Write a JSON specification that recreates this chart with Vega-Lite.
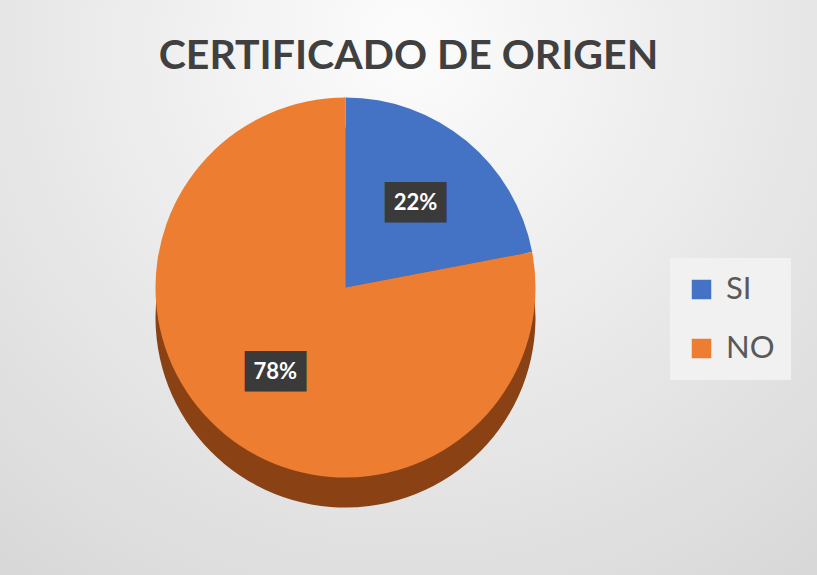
{
  "$schema": "https://vega.github.io/schema/vega-lite/v6.json",
  "width": 817,
  "height": 575,
  "autosize": {"type": "none"},
  "padding": 0,
  "background": "#eeeeee",
  "config": {
    "view": {"stroke": "#bdbdbd", "strokeWidth": 2},
    "font": "Lato"
  },
  "title": {
    "text": "CERTIFICADO DE ORIGEN",
    "font": "Lato",
    "fontSize": 41,
    "fontWeight": "bold",
    "color": "#404040",
    "anchor": "middle",
    "offset": -78
  },
  "data": {"values": [
    {"cat": "SI", "pct": 22, "label": "22%"},
    {"cat": "NO", "pct": 78, "label": "78%"}
  ]},
  "layer": [
    {
      "data": {"values": [{"bg": 1}]},
      "mark": {"type": "rect", "color": {"gradient": "radial", "x1": 0.5, "y1": 0.2, "r1": 0, "x2": 0.5, "y2": 0.2, "r2": 0.95,
        "stops": [{"offset": 0, "color": "#fcfcfc"}, {"offset": 1, "color": "#d2d2d2"}]}}
    },
    {
      "mark": {"type": "arc", "outerRadius": 190, "xOffset": -63, "yOffset": 30},
      "encoding": {
        "theta": {"field": "pct", "type": "quantitative", "stack": true},
        "order": {"field": "cat", "sort": "descending"},
        "fill": {"field": "cat", "type": "nominal", "sort": ["SI", "NO"],
          "scale": {"domain": ["SI", "NO"], "range": ["#2f5597", "#8a4214"]}, "legend": null}
      }
    },
    {
      "mark": {"type": "arc", "outerRadius": 190, "xOffset": -63, "yOffset": 0},
      "encoding": {
        "theta": {"field": "pct", "type": "quantitative", "stack": true},
        "order": {"field": "cat", "sort": "descending"},
        "color": {"field": "cat", "type": "nominal", "sort": ["SI", "NO"],
          "scale": {"domain": ["SI", "NO"], "range": ["#4472C4", "#ED7D31"]},
          "legend": {
            "title": null, "orient": "none", "legendX": 670, "legendY": 258,
            "symbolType": "square", "symbolSize": 380, "labelFontSize": 31,
            "labelColor": "#595959", "labelFont": "Lato", "rowPadding": 27,
            "fillColor": "#f1f1f1", "padding": 16, "labelOffset": 9
          }
        }
      }
    },
    {
      "mark": {"type": "text", "radius": 110, "xOffset": -63, "fontSize": 34,
        "font": "DejaVu Sans Mono", "fill": "#3a3a3a", "baseline": "middle", "dy": 1},
      "encoding": {
        "theta": {"field": "pct", "type": "quantitative", "stack": true},
        "order": {"field": "cat", "sort": "descending"},
        "text": {"value": "███"}
      }
    },
    {
      "mark": {"type": "text", "radius": 110, "xOffset": -63, "fontSize": 22, "fontWeight": "bold",
        "font": "Lato", "fill": "white", "baseline": "middle"},
      "encoding": {
        "theta": {"field": "pct", "type": "quantitative", "stack": true},
        "order": {"field": "cat", "sort": "descending"},
        "text": {"field": "label"}
      }
    }
  ],
  "resolve": {"scale": {"fill": "independent", "color": "independent"}}
}
